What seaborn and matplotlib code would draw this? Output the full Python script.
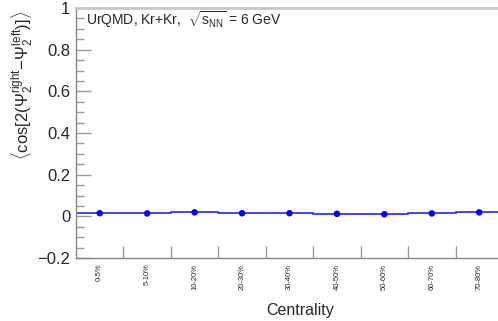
import numpy as np
import pandas as pd
import matplotlib
matplotlib.use("Agg")
import matplotlib.pyplot as plt
import seaborn as sns

categories = ["0-5%", "5-10%", "10-20%", "20-30%", "30-40%", "40-50%", "50-60%", "60-70%", "70-80%"]
values = [0.015, 0.014, 0.019, 0.015, 0.015, 0.012, 0.010, 0.014, 0.019]
errors = [0.003, 0.003, 0.003, 0.003, 0.003, 0.003, 0.003, 0.003, 0.003]
y_ticks = [-0.2, 0, 0.2, 0.4, 0.6, 0.8, 1]
y_tick_labels = ["\u22120.2", "0", "0.2", "0.4", "0.6", "0.8", "1"]

sns.set_style("white")
plt.rcParams["font.family"] = ["Liberation Sans", "DejaVu Sans"]
plt.rcParams["mathtext.fontset"] = "custom"
plt.rcParams["mathtext.rm"] = "Liberation Sans"
plt.rcParams["mathtext.it"] = "Liberation Sans"
plt.rcParams["mathtext.bf"] = "Liberation Sans:bold"

df = pd.DataFrame({"x": np.arange(len(categories)), "cat": categories, "v": values, "e": errors})

fig = plt.figure(figsize=(4.98, 3.21), dpi=100)
ax = fig.add_axes([76 / 498, 1 - 258 / 321, 1 - 76 / 498 + 0.01, (258 - 8) / 321])

edges = np.arange(len(categories) + 1) - 0.5
v = np.array(values)
e = np.array(errors)
ax.stairs(v + e, edges, baseline=v - e, fill=True, color="#b8b8f0", lw=0, alpha=0.8)
ax.stairs(v, edges, color="#3a3ae8", lw=1.3, baseline=None)
sns.scatterplot(data=df, x="x", y="v", ax=ax, color="#0000ee", s=22, edgecolor="none", zorder=5, legend=False)

ax.set_xlim(-0.5, len(categories) - 0.5)
ax.set_ylim(-0.2, 1.0)
ax.set_xlabel("")
ax.set_ylabel("")

ax.set_yticks(y_ticks)
ax.set_yticklabels(y_tick_labels, fontsize=12)
ax.set_yticks(np.arange(-0.2, 1.0001, 0.05), minor=True)
ax.tick_params(axis="y", which="major", direction="in", length=11, width=1, color="#999999", pad=4, left=True)
ax.tick_params(axis="y", which="minor", direction="in", length=6, width=1, color="#999999", left=True)

ax.set_xticks(edges[1:-1], minor=False)
ax.set_xticklabels([])
ax.tick_params(axis="x", which="major", direction="in", length=9, width=1, color="#999999", bottom=True)
ax.set_xticks(df["x"], minor=True)
ax.set_xticklabels(categories, minor=True, rotation=90, fontsize=5.5)
ax.tick_params(axis="x", which="minor", length=0, pad=4)

for s in ["left", "bottom", "top"]:
    ax.spines[s].set_color("#888888")
    ax.spines[s].set_linewidth(1)
ax.spines["top"].set_color("#c8c8c8")
ax.spines["top"].set_linewidth(2)
ax.spines["right"].set_visible(False)

fig.text(86 / 498, 1 - 20 / 321, r"UrQMD, Kr+Kr,  $\sqrt{s_{NN}}$ = 6 GeV", fontsize=10, va="center", ha="left")
fig.text(300 / 498, 1 - 310 / 321, "Centrality", fontsize=11.5, ha="center", va="center")
fig.text(22 / 498, 1 - 85 / 321,
         r"$\langle\mathrm{cos}[2(\Psi_{2}^{\mathrm{right}}\!-\!\Psi_{2}^{\mathrm{left}})]\rangle$",
         fontsize=12, rotation=90, ha="center", va="center")

fig.savefig("out.png", dpi=100)
